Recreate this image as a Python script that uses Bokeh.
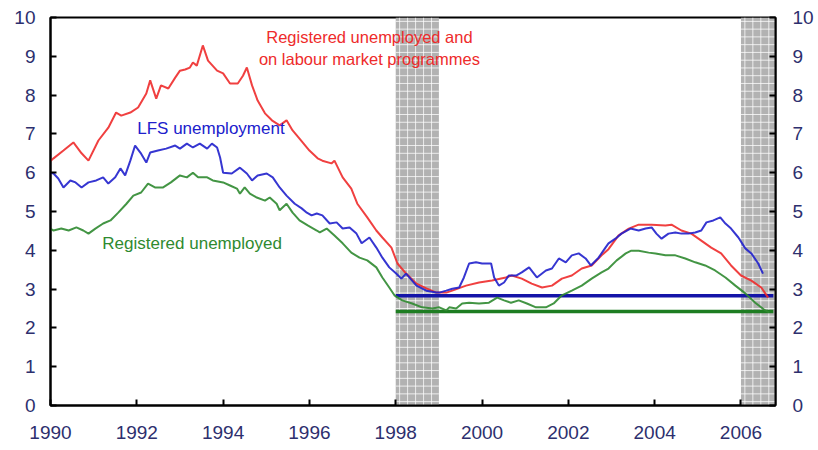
import numpy as np
from bokeh.plotting import figure
from bokeh.models import Range1d, LinearAxis, FixedTicker, Label
from bokeh.embed import file_html
from bokeh.resources import INLINE

# ---- data ----
reg_prog_t = [1990.0, 1990.07, 1990.30, 1990.53, 1990.72, 1990.88, 1991.11, 1991.34, 1991.52, 1991.64, 1991.85,
              1992.03, 1992.22, 1992.31, 1992.45, 1992.56, 1992.73, 1992.89, 1993.00, 1993.12, 1993.23,
              1993.30, 1993.39, 1993.53, 1993.65, 1993.86, 1994.00, 1994.16, 1994.34, 1994.46, 1994.55,
              1994.67, 1994.80, 1994.97, 1995.13, 1995.31, 1995.47, 1995.61, 1995.77, 1996.00, 1996.19,
              1996.30, 1996.51, 1996.58, 1996.77, 1996.97, 1997.11, 1997.34, 1997.55, 1997.69, 1997.90,
              1998.04, 1998.24, 1998.48, 1998.71, 1998.94, 1999.17, 1999.31, 1999.63, 1999.93, 2000.23,
              2000.55, 2000.69, 2000.92, 2001.15, 2001.39, 2001.62, 2001.85, 2002.08, 2002.31, 2002.54,
              2002.77, 2002.93, 2003.16, 2003.40, 2003.63, 2003.93, 2004.25, 2004.39, 2004.62, 2004.85,
              2005.08, 2005.31, 2005.54, 2005.77, 2006.00, 2006.24, 2006.47, 2006.63]
reg_prog_v = [6.30, 6.37, 6.57, 6.78, 6.50, 6.31, 6.83, 7.16, 7.55, 7.47, 7.55,
              7.68, 8.04, 8.38, 7.91, 8.25, 8.17, 8.45, 8.63, 8.66, 8.71,
              8.84, 8.76, 9.28, 8.89, 8.63, 8.56, 8.30, 8.30, 8.50, 8.71,
              8.25, 7.86, 7.53, 7.35, 7.22, 7.35, 7.09, 6.88, 6.57, 6.37,
              6.31, 6.24, 6.31, 5.88, 5.59, 5.20, 4.85, 4.51, 4.33, 4.07,
              3.66, 3.40, 3.14, 3.02, 2.91, 2.91, 2.96, 3.09, 3.17, 3.22,
              3.30, 3.35, 3.27, 3.14, 3.04, 3.09, 3.27, 3.35, 3.53, 3.61,
              3.87, 4.03, 4.38, 4.56, 4.66, 4.66, 4.64, 4.66, 4.51, 4.43,
              4.25, 4.07, 3.92, 3.61, 3.35, 3.22, 3.04, 2.78]

lfs_t = [1990.0, 1990.07, 1990.18, 1990.30, 1990.46, 1990.58, 1990.72, 1990.88, 1991.06, 1991.22, 1991.34,
         1991.50, 1991.62, 1991.73, 1991.85, 1991.96, 1992.10, 1992.22, 1992.31, 1992.49, 1992.68,
         1992.89, 1993.00, 1993.16, 1993.30, 1993.46, 1993.63, 1993.74, 1993.86, 1993.93, 1994.00,
         1994.20, 1994.39, 1994.55, 1994.67, 1994.80, 1995.01, 1995.15, 1995.31, 1995.47, 1995.66,
         1995.82, 1995.94, 1996.05, 1996.17, 1996.30, 1996.47, 1996.63, 1996.77, 1996.93, 1997.09,
         1997.21, 1997.39, 1997.55, 1997.69, 1997.85, 1998.01, 1998.13, 1998.24, 1998.48, 1998.71,
         1998.94, 1999.01, 1999.17, 1999.31, 1999.47, 1999.58, 1999.70, 1999.86, 2000.00, 2000.21,
         2000.28, 2000.39, 2000.51, 2000.62, 2000.79, 2000.92, 2001.09, 2001.27, 2001.48, 2001.62,
         2001.78, 2001.94, 2002.08, 2002.24, 2002.40, 2002.52, 2002.70, 2002.86, 2002.93, 2003.09,
         2003.23, 2003.44, 2003.63, 2003.79, 2003.93, 2004.04, 2004.16, 2004.32, 2004.48, 2004.62,
         2004.78, 2004.94, 2005.08, 2005.20, 2005.36, 2005.52, 2005.64, 2005.77, 2005.94, 2006.10,
         2006.24, 2006.40, 2006.51]
lfs_v = [6.00, 5.98, 5.85, 5.62, 5.80, 5.75, 5.62, 5.75, 5.80, 5.88, 5.72,
         5.88, 6.11, 5.93, 6.31, 6.70, 6.49, 6.26, 6.52, 6.57, 6.62,
         6.70, 6.62, 6.75, 6.65, 6.75, 6.62, 6.75, 6.65, 6.39, 6.00,
         5.98, 6.13, 5.98, 5.80, 5.93, 5.98, 5.88, 5.62, 5.41, 5.20,
         5.08, 4.97, 4.90, 4.95, 4.90, 4.69, 4.72, 4.56, 4.59, 4.43,
         4.18, 4.33, 4.07, 3.81, 3.56, 3.40, 3.27, 3.40, 3.09, 2.96,
         2.91, 2.91, 2.96, 3.01, 3.04, 3.30, 3.66, 3.69, 3.66, 3.66,
         3.30, 3.09, 3.17, 3.35, 3.35, 3.43, 3.56, 3.30, 3.48, 3.53,
         3.79, 3.69, 3.87, 3.92, 3.79, 3.61, 3.81, 4.07, 4.18, 4.30,
         4.43, 4.56, 4.51, 4.56, 4.59, 4.43, 4.30, 4.43, 4.46, 4.43,
         4.43, 4.46, 4.51, 4.72, 4.77, 4.85, 4.69, 4.56, 4.33, 4.05,
         3.92, 3.66, 3.40]

reg_t = [1990.0, 1990.07, 1990.25, 1990.42, 1990.60, 1990.76, 1990.88, 1991.04, 1991.22, 1991.39, 1991.57,
         1991.76, 1991.92, 1992.10, 1992.26, 1992.42, 1992.61, 1992.79, 1993.00, 1993.16, 1993.30,
         1993.42, 1993.63, 1993.76, 1994.00, 1994.16, 1994.32, 1994.39, 1994.50, 1994.62, 1994.78,
         1994.97, 1995.08, 1995.24, 1995.31, 1995.47, 1995.61, 1995.77, 1995.96, 1996.17, 1996.24,
         1996.40, 1996.58, 1996.77, 1996.97, 1997.16, 1997.34, 1997.55, 1997.69, 1997.85, 1997.97,
         1998.15, 1998.38, 1998.61, 1998.85, 1999.01, 1999.17, 1999.24, 1999.40, 1999.54, 1999.70,
         1999.93, 2000.16, 2000.35, 2000.51, 2000.67, 2000.85, 2001.04, 2001.25, 2001.48, 2001.66,
         2001.85, 2002.08, 2002.31, 2002.54, 2002.77, 2002.93, 2003.12, 2003.33, 2003.46, 2003.63,
         2003.86, 2004.02, 2004.25, 2004.48, 2004.71, 2004.94, 2005.17, 2005.40, 2005.64, 2005.87,
         2006.10, 2006.33, 2006.56, 2006.66]
reg_v = [4.55, 4.51, 4.56, 4.51, 4.59, 4.51, 4.43, 4.56, 4.69, 4.77, 4.97,
         5.20, 5.41, 5.49, 5.72, 5.62, 5.62, 5.75, 5.93, 5.88, 6.00,
         5.88, 5.88, 5.80, 5.75, 5.67, 5.59, 5.46, 5.62, 5.46, 5.36,
         5.28, 5.36, 5.20, 5.03, 5.20, 4.97, 4.77, 4.64, 4.51, 4.46,
         4.56, 4.38, 4.18, 3.94, 3.81, 3.74, 3.56, 3.30, 3.04, 2.84,
         2.71, 2.63, 2.53, 2.50, 2.53, 2.45, 2.53, 2.50, 2.63, 2.65,
         2.63, 2.65, 2.78, 2.71, 2.65, 2.71, 2.63, 2.53, 2.53, 2.63,
         2.84, 2.96, 3.09, 3.27, 3.43, 3.53, 3.74, 3.92, 3.99, 3.99,
         3.94, 3.92, 3.87, 3.87, 3.79, 3.69, 3.61, 3.48, 3.30, 3.09,
         2.89, 2.65, 2.45, 2.40]

# averages since 1998
avg_t = [1998.0, 2006.75]
avg_lfs = [2.83, 2.83]
avg_reg = [2.42, 2.42]

# shaded periods
shade_start = [1998.0, 2006.0]
shade_end = [1999.0, 2006.8]

x_ticks = [1990, 1992, 1994, 1996, 1998, 2000, 2002, 2004, 2006]
y_ticks = [0, 1, 2, 3, 4, 5, 6, 7, 8, 9, 10]

RED = "#ee2b2b"
BLUE = "#2020cc"
GREEN = "#2f8a30"
LABEL = "#2d2f6e"
FONT = "Liberation Sans"

p = figure(width=816, height=446, output_backend="svg", toolbar_location=None,
           x_range=Range1d(1990, 2006.8), y_range=Range1d(0, 10),
           min_border_left=50, min_border_right=38, min_border_top=17, min_border_bottom=41)
p.grid.visible = False
p.outline_line_color = "black"
p.outline_line_width = 2
p.background_fill_color = "white"
p.border_fill_color = "white"

def style_axis(ax, standoff):
    ax.ticker = FixedTicker(ticks=y_ticks)
    ax.axis_line_color = "black"
    ax.axis_line_width = 2
    ax.major_tick_in = 6
    ax.major_tick_out = 0
    ax.major_tick_line_width = 2
    ax.minor_tick_line_color = None
    ax.major_label_text_font = FONT
    ax.major_label_text_font_size = "19px"
    ax.major_label_text_color = LABEL
    ax.major_label_standoff = standoff

style_axis(p.yaxis[0], 15)
style_axis(p.xaxis[0], 20)
p.xaxis[0].ticker = FixedTicker(ticks=x_ticks)

right = LinearAxis(y_range_name="default")
style_axis(right, 17)
p.add_layout(right, "right")

# shaded bands (grey with a fine white grid texture)
p.quad(left=shade_start, right=shade_end, bottom=0, top=10,
       fill_color="#b2b2b2", line_color=None)
gx0, gx1, gy0, gy1 = [], [], [], []
for s, e in zip(shade_start, shade_end):
    for gx in np.arange(s + 0.09, e, 0.185):
        gx0.append(gx); gx1.append(gx); gy0.append(0); gy1.append(10)
    for gy in np.arange(0.1, 10, 0.2):
        gx0.append(s); gx1.append(e); gy0.append(gy); gy1.append(gy)
p.segment(x0=gx0, y0=gy0, x1=gx1, y1=gy1, line_color="white", line_width=1, line_alpha=0.75)

# averages
p.line(avg_t, avg_reg, line_color="#1e7d22", line_width=3.5)
p.line(avg_t, avg_lfs, line_color="#1414a8", line_width=3.5)

# series
p.line(reg_t, reg_v, line_color=GREEN, line_width=2, line_alpha=0.9)
p.line(reg_prog_t, reg_prog_v, line_color=RED, line_width=2, line_alpha=0.9)
p.line(lfs_t, lfs_v, line_color=BLUE, line_width=2, line_alpha=0.9)

# annotations
p.add_layout(Label(x=1997.39, y=9.51, text="Registered unemployed and", text_align="center",
                   text_baseline="middle", text_color=RED, text_font=FONT, text_font_size="16.5px"))
p.add_layout(Label(x=1997.39, y=8.92, text="on labour market programmes", text_align="center",
                   text_baseline="middle", text_color=RED, text_font=FONT, text_font_size="16.5px"))
p.add_layout(Label(x=1992.01, y=7.14, text="LFS unemployment", text_align="left",
                   text_baseline="middle", text_color=BLUE, text_font=FONT, text_font_size="17px"))
p.add_layout(Label(x=1991.2, y=4.18, text="Registered unemployed", text_align="left",
                   text_baseline="middle", text_color=GREEN, text_font=FONT, text_font_size="17px"))

open("out.html", "w").write(file_html(p, INLINE))
